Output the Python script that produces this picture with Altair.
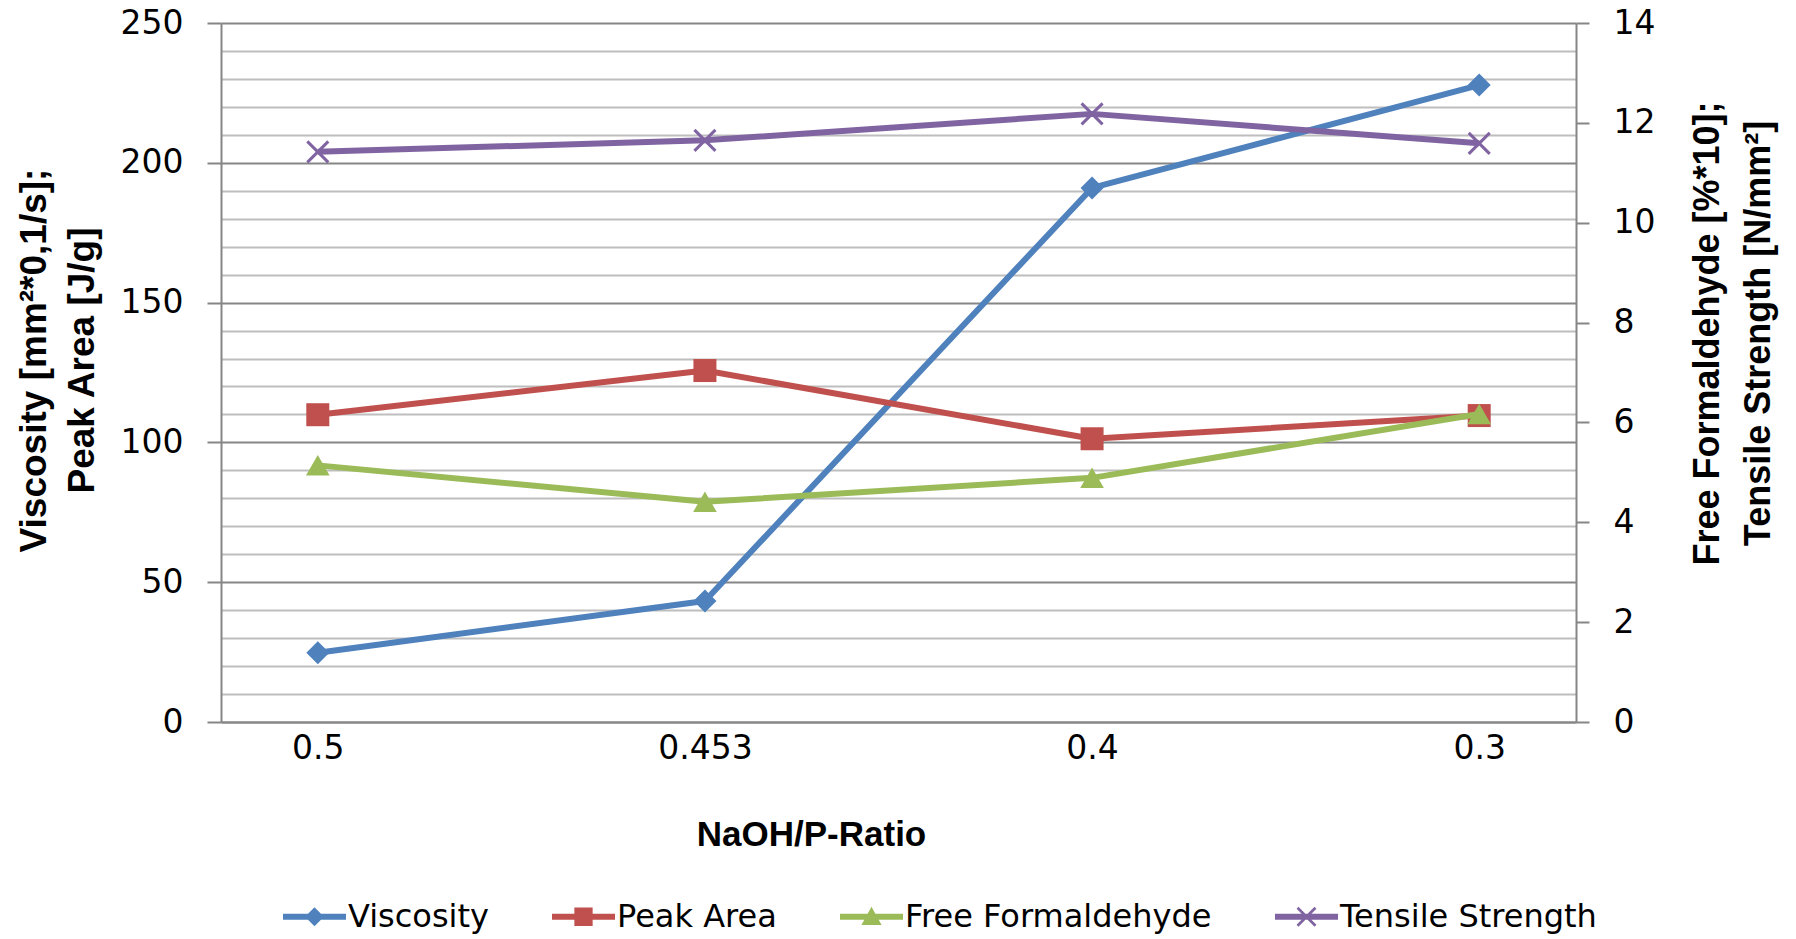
import altair as alt
import pandas as pd

# ---- data ----
ratios = ["0.5", "0.453", "0.4", "0.3"]
viscosity = [24.8, 43.3, 191.0, 227.8]
peak_area = [109.9, 125.7, 101.3, 109.6]
free_formaldehyde = [5.14, 4.41, 4.89, 6.17]
tensile_strength = [11.42, 11.65, 12.18, 11.59]

series_names = ["Viscosity", "Peak Area", "Free Formaldehyde", "Tensile Strength"]
series_colors = ["#4F81BD", "#C0504D", "#9BBB59", "#8064A2"]

left_ticks = list(range(0, 251, 10))
right_ticks = list(range(0, 15, 2))

left_title = ["Viscosity [mm²*0,1/s];", "Peak Area [J/g]"]
right_title = ["Free Formaldehyde [%*10];", "Tensile Strength [N/mm²]"]
x_title = "NaOH/P-Ratio"

# ---- styles ----
LABEL_FONT = "DejaVu Sans"
TITLE_FONT = "Liberation Sans"
AXIS_GRAY = "#868686"
MINOR_GRAY = "#BEBEBE"

stub = "M-1,-0.095H1V0.095H-1Z"
legend_shapes = [
    stub + " M-0.3,0L0,-0.3L0.3,0L0,0.3Z",
    stub + " M-0.29,-0.29H0.29V0.29H-0.29Z",
    stub + " M0,-0.32L0.32,0.26L-0.32,0.26Z",
    stub + " M-0.255,-0.315L0.315,0.255L0.255,0.315L-0.315,-0.255Z"
           " M-0.315,0.255L0.255,-0.315L0.315,-0.255L-0.255,0.315Z",
]

values_by_series = {
    "Viscosity": viscosity,
    "Peak Area": peak_area,
    "Free Formaldehyde": free_formaldehyde,
    "Tensile Strength": tensile_strength,
}

x_enc = alt.X(
    "ratio:N",
    sort=ratios,
    scale=alt.Scale(type="point", domain=ratios, padding=0.25),
    axis=alt.Axis(
        title=x_title,
        labelAngle=0,
        ticks=False,
        domainColor=AXIS_GRAY,
        domainWidth=2,
        grid=False,
        labelFont=LABEL_FONT,
        labelFontSize=33,
        labelColor="black",
        labelPadding=10,
        titleFont=TITLE_FONT,
        titleFontWeight="bold",
        titleFontSize=35,
        titleColor="black",
        titleX=590,
        titleY=112,
        titleAlign="center",
        titleBaseline="middle",
    ),
)

major = "datum.value % 50 === 0"
y_left = alt.Y(
    "value:Q",
    scale=alt.Scale(domain=[0, 250], nice=False, zero=True),
    axis=alt.Axis(
        orient="left",
        values=left_ticks,
        title=left_title,
        grid=True,
        gridColor={"condition": {"test": major, "value": AXIS_GRAY}, "value": MINOR_GRAY},
        gridWidth=2,
        tickColor=AXIS_GRAY,
        tickOpacity={"condition": {"test": major, "value": 1}, "value": 0},
        tickSize=14,
        tickWidth=2,
        domainColor=AXIS_GRAY,
        domainWidth=2,
        labelExpr="datum.value % 50 === 0 ? datum.label : ''",
        labelOverlap=False,
        labelFlush=False,
        labelFont=LABEL_FONT,
        labelFontSize=33,
        labelColor="black",
        labelPadding=24,
        titleFont=TITLE_FONT,
        titleFontWeight="bold",
        titleFontSize=37,
        titleColor="black",
        titleAngle=270,
        titleX=-187,
        titleY=337,
        titleAlign="center",
        titleBaseline="middle",
        titleLineHeight=48,
    ),
)

y_right = alt.Y(
    "value:Q",
    scale=alt.Scale(domain=[0, 14], nice=False, zero=True),
    axis=alt.Axis(
        orient="right",
        values=right_ticks,
        title=right_title,
        grid=False,
        tickColor=AXIS_GRAY,
        tickSize=13,
        tickWidth=2,
        domainColor=AXIS_GRAY,
        domainWidth=2,
        labelOverlap=False,
        labelFlush=False,
        labelFont=LABEL_FONT,
        labelFontSize=33,
        labelColor="black",
        labelPadding=24,
        titleFont=TITLE_FONT,
        titleFontWeight="bold",
        titleFontSize=36,
        titleColor="black",
        titleAngle=270,
        titleX=131,
        titleY=310,
        titleAlign="center",
        titleBaseline="middle",
        titleLineHeight=51,
    ),
)

marker_styles = {
    "Viscosity": dict(shape="diamond", filled=True, size=529),
    "Peak Area": dict(shape="square", filled=True, size=529),
    "Free Formaldehyde": dict(shape="triangle-up", filled=True, size=560),
    "Tensile Strength": dict(shape="M-1,-1L1,1M-1,1L1,-1", filled=False, size=441, strokeWidth=3),
}


def series_layers(name, color, y_enc):
    df = pd.DataFrame({"ratio": ratios, "value": values_by_series[name]})
    line = alt.Chart(df).mark_line(color=color, strokeWidth=6, strokeJoin="round").encode(
        x=x_enc, y=y_enc
    )
    pts = alt.Chart(df).mark_point(color=color, opacity=1, **marker_styles[name]).encode(
        x=x_enc, y=y_enc
    )
    return [line, pts]


left_layers = []
for n, c in zip(series_names[:2], series_colors[:2]):
    left_layers += series_layers(n, c, y_left)
right_layers = []
for n, c in zip(series_names[2:], series_colors[2:]):
    right_layers += series_layers(n, c, y_right)

leg = alt.Legend(
    title=None,
    orient="none",
    legendX=62,
    legendY=862,
    direction="horizontal",
    symbolSize=3969,
    symbolOpacity=1,
    symbolStrokeWidth=0,
    labelFont=LABEL_FONT,
    labelFontSize=32,
    labelColor="black",
    labelOffset=2,
    labelLimit=1000,
    columnPadding=63,
)

legend_layer = alt.Chart(pd.DataFrame({"series": series_names})).mark_point(
    filled=True, opacity=0
).encode(
    color=alt.Color("series:N", scale=alt.Scale(domain=series_names, range=series_colors), legend=leg),
    shape=alt.Shape("series:N", scale=alt.Scale(domain=series_names, range=legend_shapes), legend=leg),
)

chart = (
    alt.layer(alt.layer(*left_layers), alt.layer(*right_layers), legend_layer)
    .resolve_scale(y="independent")
    .properties(
        width=1355,
        height=699,
        autosize=alt.AutoSizeParams(type="none"),
        padding={"left": 221, "top": 23, "right": 220, "bottom": 217},
        background="white",
    )
    .configure_view(fill="#F2F2F2", strokeWidth=0)
)

chart.save("out.html", embed_options={"renderer": "svg", "actions": False})
